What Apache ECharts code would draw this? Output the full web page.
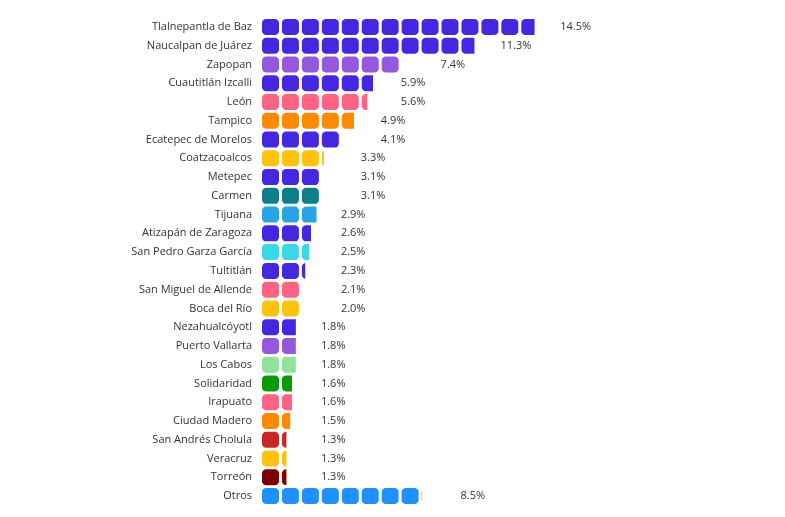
<!DOCTYPE html>
<html>
<head>
<meta charset="utf-8">
<script src="https://cdn.jsdelivr.net/npm/echarts@6/dist/echarts.min.js"></script>
</head>
<body style="margin:0;background:#fff">
<div id="main" style="width:785px;height:517px"></div>
<script>
var cities = ['Tlalnepantla de Baz','Naucalpan de Juárez','Zapopan','Cuautitlán Izcalli','León','Tampico','Ecatepec de Morelos','Coatzacoalcos','Metepec','Carmen','Tijuana','Atizapán de Zaragoza','San Pedro Garza García','Tultitlán','San Miguel de Allende','Boca del Río','Nezahualcóyotl','Puerto Vallarta','Los Cabos','Solidaridad','Irapuato','Ciudad Madero','San Andrés Cholula','Veracruz','Torreón','Otros'];
var shares = [14.5,11.3,7.4,5.9,5.6,4.9,4.1,3.3,3.1,3.1,2.9,2.6,2.5,2.3,2.1,2.0,1.8,1.8,1.8,1.6,1.6,1.5,1.3,1.3,1.3,8.5];
var colors = ['#4527e0','#4527e0','#9457de','#4527e0','#ff6384','#ff8a00','#4527e0','#ffc20e','#4527e0','#0d7f8a','#29a3e8','#4527e0','#3ad7e6','#4527e0','#ff6384','#ffc20e','#4527e0','#9457de','#90e39a','#0a9a0a','#ff6384','#ff8a00','#c62828','#ffc20e','#7b0000','#1e90ff'];

var chart = echarts.init(document.getElementById('main'));
chart.setOption({
  animation: false,
  grid: { left: 262, top: 17.6, width: 376, height: 487.8 },
  xAxis: { type: 'value', min: 0, max: 20, show: false },
  yAxis: {
    type: 'category', inverse: true, data: cities,
    axisLine: { show: false }, axisTick: { show: false },
    axisLabel: { color: '#333', fontSize: 11, fontFamily: 'Open Sans', margin: 10 }
  },
  series: [{
    type: 'pictorialBar',
    symbol: 'roundRect',
    symbolRepeat: true,
    symbolClip: true,
    symbolBoundingData: 20,
    symbolSize: [17, 16],
    symbolMargin: 1.8,
    symbolPosition: 'start',
    label: {
      show: true, position: 'right', distance: 22, color: '#333', fontSize: 11, fontFamily: 'Open Sans',
      formatter: function (p) { return p.value.toFixed(1) + '%'; }
    },
    data: shares.map(function (v, i) { return { value: v, itemStyle: { color: colors[i] } }; })
  }]
});
</script>
</body>
</html>
